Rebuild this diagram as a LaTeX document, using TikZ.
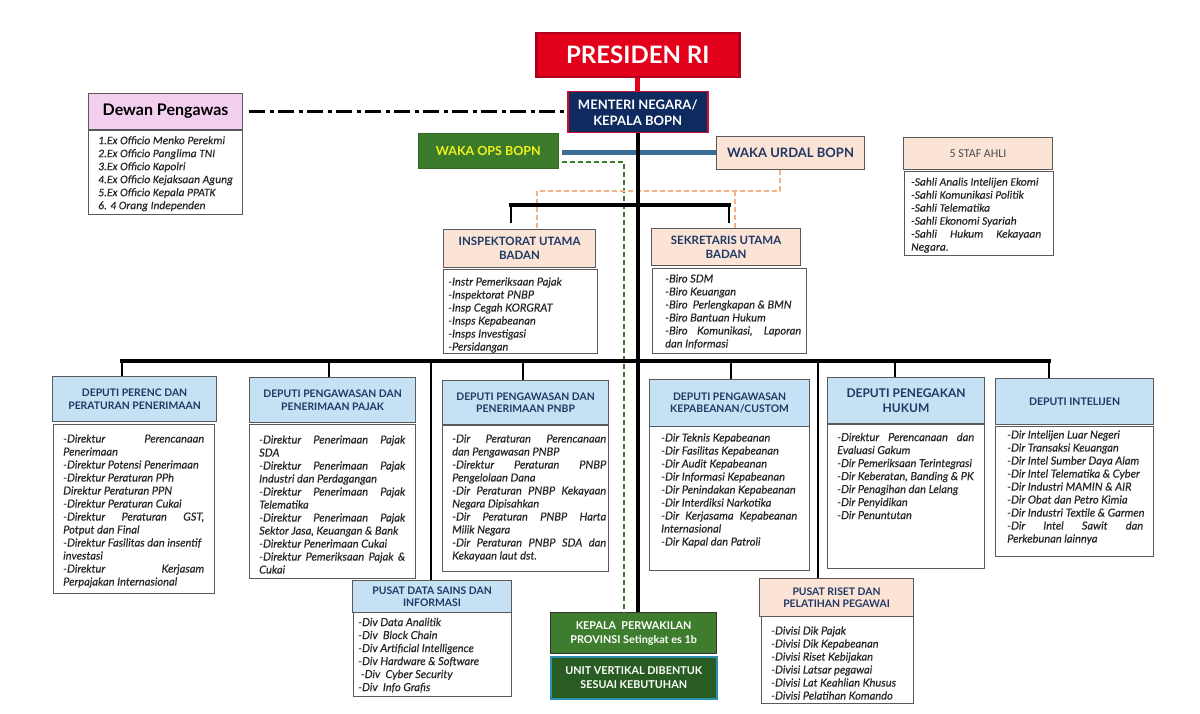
\documentclass[tikz,border=0pt]{standalone}
\usepackage{fontspec}
\setmainfont{Lato}
\newfontfamily\narrowfont{Carlito}[FakeBold=0.3]
\newfontfamily\plainnarrow{Carlito}
\newfontfamily\listfont{Lato}[FakeBold=0.3]
\usetikzlibrary{calc}
\definecolor{presred}{HTML}{E2001A}
\definecolor{presborder}{HTML}{B00020}
\definecolor{navyfill}{HTML}{0E2A5E}
\definecolor{menborder}{HTML}{C8102E}
\definecolor{navytxt}{HTML}{1F3864}
\definecolor{hblue}{HTML}{C6E0F4}
\definecolor{peach}{HTML}{FBE3D6}
\definecolor{pinkfill}{HTML}{F2CFEE}
\definecolor{opsgreen}{HTML}{3B7A2A}
\definecolor{opsyellow}{HTML}{F2F21E}
\definecolor{kepgreen}{HTML}{3E7D2D}
\definecolor{unitgreen}{HTML}{285C22}
\definecolor{unitborder}{HTML}{2C8FB0}
\definecolor{boxgray}{HTML}{5A5A5A}
\definecolor{bluebar}{HTML}{3A6E97}
\definecolor{peachdash}{HTML}{F4B183}
\definecolor{txt}{HTML}{262626}
\newlength{\jw}
\newcommand{\jl}[1]{\makebox[\jw][s]{#1}}
\begin{document}
\begin{tikzpicture}[x=1pt,y=-1pt,
  box/.style={draw=boxgray, line width=1.1pt, inner sep=0pt, anchor=north west},
  hdr/.style={box, fill=hblue, align=center, text=navytxt, font=\fontsize{10.4}{12.5}\selectfont\bfseries},
  lbox/.style={box, fill=white},
  ltext/.style={inner sep=0pt, anchor=north west, align=left, text=txt,
    font=\listfont\fontsize{11.1}{13}\selectfont\itshape, execute at begin node={\setlength{\jw}{#1}}},
  ltext/.default=100pt,
  ntext/.style={ltext=#1, font=\narrowfont\fontsize{11.5}{13}\selectfont\itshape},
  ntext/.default=100pt,
  spine/.style={line width=4pt, black},
  bar/.style={line width=4pt, black, line cap=rect},
  drop/.style={line width=2.5pt, black},
  longline/.style={line width=2pt, black},
  greendash/.style={line width=1.5pt, opsgreen, dash pattern=on 5pt off 3pt},
  peachdashed/.style={line width=1.5pt, peachdash, dash pattern=on 5pt off 3pt},
]
\fill[white] (0,0) rectangle (1200,714);
\useasboundingbox (0,0) rectangle (1200,714);

% ---------- top ----------
\node[box, draw=presborder, line width=2.5pt, fill=presred, text=white,
  font=\fontsize{24}{30}\selectfont\bfseries, minimum width=203pt, minimum height=44pt] (pres) at (535,32) {PRESIDEN RI};
\node[box, draw=menborder, line width=1.5pt, fill=navyfill, text=white, align=center,
  font=\fontsize{13}{16}\selectfont\bfseries, minimum width=140pt, minimum height=41pt] (mentri) at (567,91) {MENTERI NEGARA/\\KEPALA BOPN};

\node[box, fill=pinkfill, font=\fontsize{16}{19}\selectfont\bfseries, minimum width=154pt, minimum height=36pt] (dewanh) at (88,93) {Dewan Pengawas};
\node[lbox, minimum width=154pt, minimum height=84pt] (dewanl) at (88,130) {};
\node[ntext] (dewant) at (98,136) {1.Ex Officio Menko Perekmi\\2.Ex Officio Panglima TNI\\3.Ex Officio Kapolri\\4.Ex Officio Kejaksaan Agung\\5.Ex Officio Kepala PPATK\\6. 4 Orang Independen};

\node[box, draw=opsgreen!85!black, line width=0.6pt, fill=opsgreen, text=opsyellow,
  font=\fontsize{12.5}{15}\selectfont\bfseries, minimum width=140pt, minimum height=35pt] (wakaops) at (418,133) {WAKA OPS BOPN};
\node[box, fill=peach, text=navytxt, font=\fontsize{13}{16}\selectfont\bfseries,
  minimum width=148pt, minimum height=33pt] (wakaurdal) at (716,136) {WAKA URDAL BOPN};

\node[box, fill=peach, text=black!70, font=\plainnarrow\fontsize{12}{13}\selectfont, minimum width=149pt, minimum height=32pt] (stafh) at (903,137) {5 STAF AHLI};
\node[lbox, minimum width=149pt, minimum height=84pt] (stafl) at (904,171) {};
\node[ntext=130pt] (staft) at (911,177.5) {-Sahli Analis Intelijen Ekomi\\-Sahli Komunikasi Politik\\-Sahli Telematika\\-Sahli Ekonomi Syariah\\\jl{-Sahli Hukum Kekayaan}\\Negara.};

% ---------- second level ----------
\node[hdr, fill=peach, font=\fontsize{11.5}{14}\selectfont\bfseries, minimum width=152pt, minimum height=38pt] (insph) at (443,229) {INSPEKTORAT UTAMA\\BADAN};
\node[lbox, minimum width=154pt, minimum height=84pt] (inspl) at (443,269) {};
\node[ltext] (inspt) at (448,277.2) {-Instr Pemeriksaan Pajak\\-Inspektorat PNBP\\-Insp Cegah KORGRAT\\-Insps Kepabeanan\\-Insps Investigasi\\-Persidangan};

\node[hdr, fill=peach, font=\fontsize{11.5}{14}\selectfont\bfseries, minimum width=149pt, minimum height=37pt] (sekh) at (651,228) {SEKRETARIS UTAMA\\BADAN};
\node[lbox, minimum width=154pt, minimum height=85pt] (sekl) at (652,268) {};
\node[ltext=136pt] (sekt) at (665,274.2) {-Biro SDM\\-Biro Keuangan\\-Biro\ \ Perlengkapan \& BMN\\-Biro Bantuan Hukum\\\jl{-Biro Komunikasi, Laporan}\\dan Informasi};

% ---------- deputies ----------
\node[hdr, minimum width=164pt, minimum height=45pt] (d1h) at (52,376) {DEPUTI PERENC DAN\\PERATURAN PENERIMAAN};
\node[lbox, minimum width=161pt, minimum height=169pt] (d1l) at (53,424) {};
\node[ltext=141pt] (d1t) at (63,434.2) {\jl{-Direktur Perencanaan}\\Penerimaan\\-Direktur Potensi Penerimaan\\-Direktur Peraturan PPh\\Direktur Peraturan PPN\\-Direktur Peraturan Cukai\\\jl{-Direktur Peraturan GST,}\\Potput dan Final\\-Direktur Fasilitas dan insentif\\investasi\\\jl{-Direktur Kerjasam}\\Perpajakan Internasional};

\node[hdr, minimum width=166pt, minimum height=45pt] (d2h) at (249,377) {DEPUTI PENGAWASAN DAN\\PENERIMAAN PAJAK};
\node[lbox, minimum width=166pt, minimum height=154pt] (d2l) at (249,424) {};
\node[ltext=146pt] (d2t) at (259,435.2) {\jl{-Direktur Penerimaan Pajak}\\SDA\\\jl{-Direktur Penerimaan Pajak}\\Industri dan Perdagangan\\\jl{-Direktur Penerimaan Pajak}\\Telematika\\\jl{-Direktur Penerimaan Pajak}\\Sektor Jasa, Keuangan \& Bank\\-Direktur Penerimaan Cukai\\\jl{-Direktur Pemeriksaan Pajak \&}\\Cukai};

\node[hdr, minimum width=166pt, minimum height=44pt] (d3h) at (442,380) {DEPUTI PENGAWASAN DAN\\PENERIMAAN PNBP};
\node[lbox, minimum width=166pt, minimum height=146pt] (d3l) at (442,425) {};
\node[ltext=154pt] (d3t) at (452,434.2) {\jl{-Dir Peraturan Perencanaan}\\dan Pengawasan PNBP\\\jl{-Direktur Peraturan PNBP}\\Pengelolaan Dana\\\jl{-Dir Peraturan PNBP Kekayaan}\\Negara Dipisahkan\\\jl{-Dir Peraturan PNBP Harta}\\Milik Negara\\\jl{-Dir Peraturan PNBP SDA dan}\\Kekayaan laut dst.};

\node[hdr, minimum width=160pt, minimum height=47pt] (d4h) at (649,379) {DEPUTI PENGAWASAN\\KEPABEANAN/CUSTOM};
\node[lbox, minimum width=160pt, minimum height=144pt] (d4l) at (649,426) {};
\node[ltext=136pt] (d4t) at (661,433.2) {-Dir Teknis Kepabeanan\\-Dir Fasilitas Kepabeanan\\-Dir Audit Kepabeanan\\-Dir Informasi Kepabeanan\\-Dir Penindakan Kepabeanan\\-Dir Interdiksi Narkotika\\\jl{-Dir Kerjasama Kepabeanan}\\Internasional\\-Dir Kapal dan Patroli};

\node[hdr, font=\fontsize{12}{15}\selectfont\bfseries, minimum width=157pt, minimum height=46pt] (d5h) at (827,377) {DEPUTI PENEGAKAN\\HUKUM};
\node[lbox, minimum width=157pt, minimum height=144pt] (d5l) at (827,424) {};
\node[ltext=137pt] (d5t) at (837,432.7) {\jl{-Direktur Perencanaan dan}\\Evaluasi Gakum\\-Dir Pemeriksaan Terintegrasi\\-Dir Keberatan, Banding \& PK\\-Dir Penagihan dan Lelang\\-Dir Penyidikan\\-Dir Penuntutan};

\node[hdr, font=\fontsize{10.5}{13}\selectfont\bfseries, minimum width=158pt, minimum height=46pt] (d6h) at (995,378) {DEPUTI INTELIJEN};
\node[lbox, minimum width=158pt, minimum height=130pt] (d6l) at (995,426) {};
\node[ltext=136pt] (d6t) at (1007,430.2) {-Dir Intelijen Luar Negeri\\-Dir Transaksi Keuangan\\-Dir Intel Sumber Daya Alam\\-Dir Intel Telematika \& Cyber\\-Dir Industri MAMIN \& AIR\\-Dir Obat dan Petro Kimia\\-Dir Industri Textile \& Garmen\\\jl{-Dir Intel Sawit dan}\\Perkebunan lainnya};

% ---------- bottom ----------
\node[hdr, minimum width=159pt, minimum height=32pt] (pdh) at (352,580) {PUSAT DATA SAINS DAN\\INFORMASI};
\node[lbox, minimum width=158pt, minimum height=84pt] (pdl) at (353,612) {};
\node[ltext] (pdt) at (358,617.7) {-Div Data Analitik\\-Div\ \ Block Chain\\-Div Artificial Intelligence\\-Div Hardware \& Software\\\ -Div\ \ Cyber Security\\-Div\ \ Info Grafis};

\node[hdr, fill=peach, minimum width=154pt, minimum height=38pt] (prh) at (759,578) {PUSAT RISET DAN\\PELATIHAN PEGAWAI};
\node[lbox, minimum width=152pt, minimum height=87pt] (prl) at (761,616) {};
\node[ltext] (prt) at (771,626.2) {-Divisi Dik Pajak\\-Divisi Dik Kepabeanan\\-Divisi Riset Kebijakan\\-Divisi Latsar pegawai\\-Divisi Lat Keahlian Khusus\\-Divisi Pelatihan Komando};

\node[box, draw=black!80, line width=1.2pt, fill=kepgreen, text=white, align=center,
  font=\fontsize{10.8}{14}\selectfont\bfseries, minimum width=166pt, minimum height=41pt] (kepala) at (550,612) {KEPALA\ \ PERWAKILAN\\PROVINSI Setingkat es 1b};
\node[box, draw=unitborder, line width=1.5pt, fill=unitgreen, text=white, align=center,
  font=\fontsize{10.8}{14}\selectfont\bfseries, minimum width=166pt, minimum height=42pt] (unit) at (550,656) {UNIT VERTIKAL DIBENTUK\\SESUAI KEBUTUHAN};

% ---------- connectors ----------
\draw[line width=5pt, presred] (pres.south) -- (pres.south |- mentri.north);
\draw[line width=2.5pt, dash pattern=on 16pt off 4.5pt on 4pt off 4.5pt, shorten <=6pt] (dewanh.east) -- (dewanh.east -| mentri.west);

\draw[line width=4.5pt, bluebar, shorten <=3pt] ([yshift=-1.5pt]wakaops.east) -- ([yshift=-1.5pt]wakaops.east -| wakaurdal.west);

\coordinate (gcorner) at (624,162);
\draw[greendash, shorten <=3pt] (wakaops.east |- gcorner) -- (gcorner) -- (gcorner |- kepala.north);

\coordinate (pR) at (780,191);
\coordinate (pL) at (537,191);
\coordinate (pR2) at (735,191);
\draw[peachdashed] (wakaurdal.south -| pR) -- (pR) -- (pL) -- (pL |- insph.north);
\draw[peachdashed] (pR2) -- (pR2 |- sekh.north);

\coordinate (tL) at (511,205);
\coordinate (tR) at (729,205);
\coordinate (tLe) at (511,223);
\coordinate (tRe) at (729,223);
\draw[bar] (tL) -- (tR);
\draw[drop] (tL) -- (tLe);
\draw[drop] (tR) -- (tRe);

\coordinate (mL) at (122,361);
\coordinate (mR) at (1049,361);
\draw[bar] (mL) -- (mR);
\draw[drop] (mL) -- (mL |- d1h.north);
\coordinate (j2) at (329,361);
\draw[drop] (j2) -- (j2 |- d2h.north);
\coordinate (j3) at (523,361);
\draw[drop] (j3) -- (j3 |- d3h.north);
\coordinate (j4) at (731,361);
\draw[drop] (j4) -- (j4 |- d4h.north);
\coordinate (j5) at (895,361);
\draw[drop] (j5) -- (j5 |- d5h.north);
\draw[drop] (mR) -- (mR |- d6h.north);
\coordinate (jpd) at (431,361);
\draw[longline] (jpd) -- (jpd |- pdh.north);
\coordinate (jpr) at (818,361);
\draw[longline] (jpr) -- (jpr |- prh.north);

\draw[spine] (mentri.south) -- (mentri.south |- kepala.north);
\end{tikzpicture}
\end{document}
